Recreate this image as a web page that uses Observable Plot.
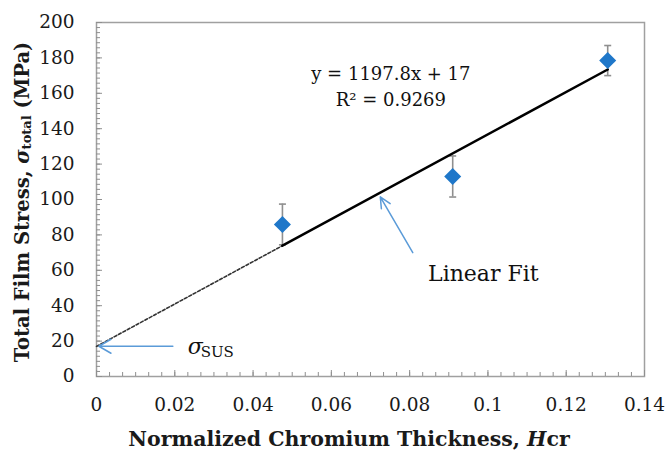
<!DOCTYPE html>
<html><head><meta charset="utf-8">
<script src="https://cdn.jsdelivr.net/npm/d3@7"></script>
<script src="https://cdn.jsdelivr.net/npm/@observablehq/plot@0.6"></script>
<style>
body{margin:0;background:#fff}
#chart svg{font-family:"DejaVu Serif",serif;background:#fff}
</style>
</head><body><div id="chart"></div>
<script>
// ---- data ----
const hcr = [0.0475, 0.0910, 0.1306];
const stress = [85.9, 113.0, 178.5];
const stressErr = [11.5, 11.6, 8.5];
const fitSlope = 1197.8, fitIntercept = 17;
const fitSolidX = [0.0475, 0.1306];
const fitDashX = [0, 0.0475];
const yTicks = [0, 20, 40, 60, 80, 100, 120, 140, 160, 180, 200];
const yTickLabels = ["0","20","40","60","80","100","120","140","160","180","200"];
const xTicks = [0, 0.02, 0.04, 0.06, 0.08, 0.10, 0.12, 0.14];
const xTickLabels = ["0","0.02","0.04","0.06","0.08","0.1","0.12","0.14"];
const eqLines = ["y = 1197.8x + 17", "R\u00B2 = 0.9269"];
const eqX = [0.0752, 0.0752];
const eqY = [170.6, 156.0];
const fitLabel = "Linear Fit";
const fitArrow = {x1: 0.0808, y1: 70.0, x2: 0.0725, y2: 101.5};
const susArrow = {x1: 0.0195, y1: 17.1, x2: 0.0006, y2: 17.1};

const points = hcr.map((x, i) => ({x, y: stress[i], e: stressErr[i]}));
const caps = points.flatMap(d => [{x: d.x, y: d.y - d.e}, {x: d.x, y: d.y + d.e}]);
const fitSolid = fitSolidX.map(x => ({x, y: fitSlope * x + fitIntercept}));
const fitDash = fitDashX.map(x => ({x, y: fitSlope * x + fitIntercept}));
const eq = eqLines.map((t, i) => ({t, x: eqX[i], y: eqY[i]}));

const yMinor = d3.range(0, 200.001, 20 / 7);
const xMinor = d3.range(0, 0.14001, 0.14 / 42);

const capSymbol = {draw(ctx) { ctx.moveTo(-3.5, 0); ctx.lineTo(3.5, 0); }};
const gray = "#8f8f8f";
const blue = "#1f77c9";
const arrowBlue = "#5b9bd8";

const chart = Plot.plot({
  width: 665, height: 450,
  marginLeft: 96, marginRight: 21, marginTop: 22, marginBottom: 74,
  x: {domain: [0, 0.14]},
  y: {domain: [0, 200]},
  style: {fontFamily: "DejaVu Serif", fontSize: "18px", color: "#1a1a1a"},
  marks: [
    Plot.frame({stroke: "#a0a0a0", strokeWidth: 1.5}),
    Plot.axisY({ticks: yMinor, tickSize: 4, dx: 4, tickFormat: () => "", label: null, stroke: gray}),
    Plot.axisY({ticks: yTicks, tickSize: 6, dx: 6, tickFormat: () => "", label: null, stroke: gray}),
    Plot.axisY({ticks: yTicks, tickSize: 0, tickPadding: 22, tickFormat: (d, i) => yTickLabels[i], label: null, fontSize: 18.5}),
    Plot.axisX({ticks: xMinor, tickSize: 4, dy: -4, tickFormat: () => "", label: null, stroke: gray}),
    Plot.axisX({ticks: xTicks, tickSize: 6, dy: -6, tickFormat: () => "", label: null, stroke: gray}),
    Plot.axisX({ticks: xTicks, tickSize: 0, tickPadding: 21, tickFormat: (d, i) => xTickLabels[i], label: null, fontSize: 18.5}),
    Plot.ruleX(points, {x: "x", y1: d => d.y - d.e, y2: d => d.y + d.e, stroke: gray, strokeWidth: 1.6}),
    Plot.dot(caps, {x: "x", y: "y", symbol: capSymbol, fill: "none", stroke: gray, strokeWidth: 1.6}),
    Plot.line(fitDash, {x: "x", y: "y", stroke: "#333", strokeWidth: 1.6, strokeDasharray: "3,2"}),
    Plot.line(fitSolid, {x: "x", y: "y", stroke: "#000", strokeWidth: 2.5}),
    Plot.dot(points, {x: "x", y: "y", symbol: "square", rotate: 45, r: 6.8, fill: blue, stroke: "none"}),
    Plot.arrow([fitArrow], {x1: "x1", y1: "y1", x2: "x2", y2: "y2", stroke: arrowBlue, strokeWidth: 1.5, headLength: 12, headAngle: 50}),
    Plot.arrow([susArrow], {x1: "x1", y1: "y1", x2: "x2", y2: "y2", stroke: arrowBlue, strokeWidth: 1.5, headLength: 14, headAngle: 60}),
    Plot.text(eq, {x: "x", y: "y", text: "t", fontSize: 18, fill: "#111"}),
    Plot.text([fitLabel], {x: 0.0847, y: 58.2, text: d => d, textAnchor: "start", fontSize: 22, fill: "#111"}),
    Plot.text(["\u03C3"], {x: 0.0233, y: 16.5, text: d => d, textAnchor: "start", fontSize: 22, fontStyle: "italic", fill: "#111"}),
    Plot.text(["SUS"], {x: 0.0233, y: 16.5, text: d => d, textAnchor: "start", dx: 13, dy: 5, fontSize: 15, fill: "#111"})
  ]
});
document.getElementById("chart").appendChild(chart);

const svg = d3.select(chart);
// y-axis title with subscript
const yt = svg.append("text")
  .attr("transform", "translate(23,202) rotate(-90)")
  .attr("text-anchor", "middle")
  .attr("font-weight", "bold").attr("font-size", 19.5).attr("fill", "#1a1a1a")
  .attr("dominant-baseline", "middle");
yt.append("tspan").text("Total Film Stress, ");
yt.append("tspan").attr("font-style", "italic").text("\u03C3");
yt.append("tspan").attr("font-size", 13).attr("dy", 4).text("total");
yt.append("tspan").attr("dy", -4).text(" (MPa)");
// x-axis title
const xt = svg.append("text")
  .attr("x", 349).attr("y", 446)
  .attr("text-anchor", "middle")
  .attr("font-weight", "bold").attr("font-size", 20.5).attr("fill", "#1a1a1a");
xt.append("tspan").text("Normalized Chromium Thickness, ");
xt.append("tspan").attr("font-style", "italic").text("H");
xt.append("tspan").text("cr");
</script>
</body></html>
